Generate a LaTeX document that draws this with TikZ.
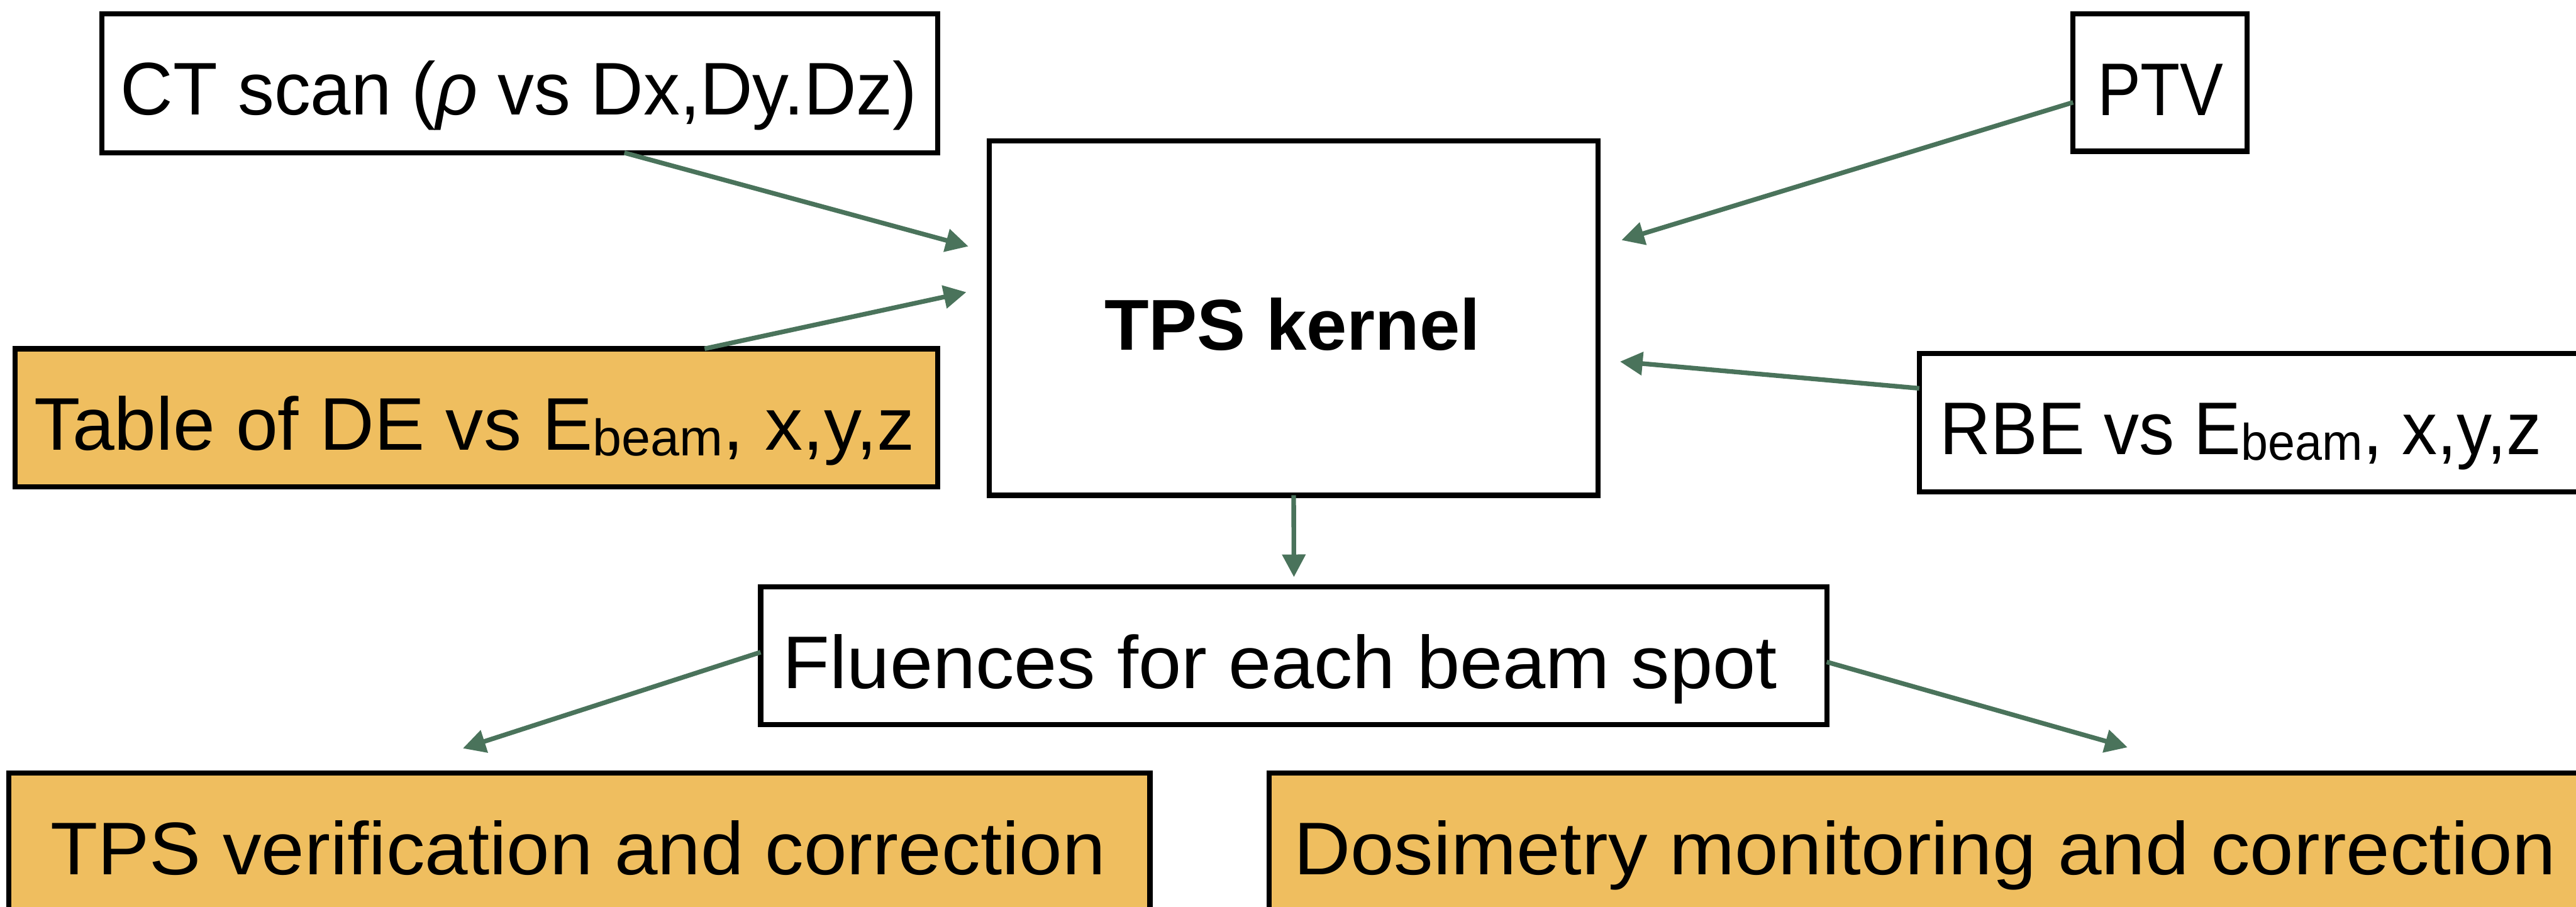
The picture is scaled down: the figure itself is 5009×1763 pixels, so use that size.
\documentclass[tikz,border=0pt]{standalone}
\usepackage{fontspec}
\setmainfont{Liberation Sans}
\usetikzlibrary{arrows.meta}
\definecolor{arrowgreen}{HTML}{4A735B}
\definecolor{boxorange}{HTML}{EFBE5F}
\newcommand{\Ebeam}{E\raisebox{-11pt}{\fontsize{100}{120}\selectfont beam}}
\begin{document}
\begin{tikzpicture}[x=1pt,y=-1pt,
  box/.style={draw=black,line width=10pt,inner sep=0pt,outer sep=0pt},
  obox/.style={box,fill=boxorange},
  lbl/.style={anchor=base,inner sep=0pt,font=\fontsize{145}{170}\selectfont},
  arr/.style={draw=arrowgreen,line width=9pt,-{Triangle[length=44pt,width=44pt]}}]
\useasboundingbox (0,0) rectangle (5009,1763);
% boxes
\node[box,minimum width=1625pt,minimum height=270pt] (ct) at (1010.5,162) {};
\node[box,minimum width=1183pt,minimum height=689pt] (tps) at (2515.5,618.5) {};
\node[box,minimum width=338pt,minimum height=267pt] (ptv) at (4200,160.5) {};
\node[obox,minimum width=1794pt,minimum height=269pt] (tab) at (926,812.5) {};
\node[box,minimum width=1308pt,minimum height=269pt] (rbe) at (4386,821.5) {};
\node[box,minimum width=2073pt,minimum height=268pt] (flu) at (2515.5,1275) {};
\node[obox,minimum width=2219pt,minimum height=277pt] (ver) at (1126.5,1641.5) {};
\node[obox,minimum width=2572pt,minimum height=277pt] (dos) at (3754,1641.5) {};
% labels
\node[lbl] (ctT) at (1009,223) {\scalebox{0.976}[1]{CT scan ({\itshape ρ} vs Dx,Dy.Dz)}};
\node[lbl,font=\fontsize{140}{170}\selectfont\bfseries] (tpsT) at (2513,681) {\scalebox{1.01}[1]{TPS kernel}};
\node[lbl] (ptvT) at (4201,224) {\scalebox{0.87}[1]{PTV}};
\node[lbl] (tabT) at (923,875) {\scalebox{1.013}[1]{Table of DE vs \Ebeam, x,y,z}};
\node[lbl] (rbeT) at (4357,884) {\scalebox{0.945}[1]{RBE vs \Ebeam, x,y,z}};
\node[lbl] (fluT) at (2489,1338) {\scalebox{1.034}[1]{Fluences for each beam spot}};
\node[lbl] (verT) at (1124,1700) {\scalebox{1.039}[1]{TPS verification and correction}};
\node[lbl] (dosT) at (3743,1700) {\scalebox{1.054}[1]{Dosimetry monitoring and correction}};
% arrow end points
\coordinate (tpsA) at (1883,479);
\coordinate (tpsB) at (1879,568);
\coordinate (tpsC) at (3153,467);
\coordinate (tpsD) at (3150,703);
\coordinate (fluIn) at (2516,1122);
\coordinate (verIn) at (900,1455);
\coordinate (dosIn) at (4137,1453);
% connectors
\draw[arr] ([xshift=203.5pt]ct.south) -- (tpsA);
\draw[arr] ([xshift=444pt]tab.north) -- (tpsB);
\draw[arr] ([yshift=-38.5pt]ptv.west) -- (tpsC);
\draw[arr] ([yshift=66.5pt]rbe.west) -- (tpsD);
\draw[arr] (tps.south) -- (fluIn);
\draw[arr] ([yshift=7pt]flu.west) -- (verIn);
\draw[arr] ([yshift=-12pt]flu.east) -- (dosIn);
\end{tikzpicture}
\end{document}
